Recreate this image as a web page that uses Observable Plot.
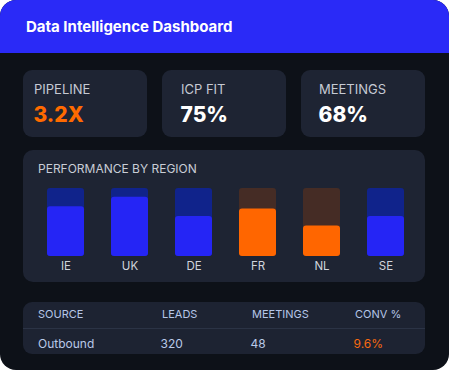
<!DOCTYPE html>
<html>
<head>
<meta charset="utf-8">
<script src="https://cdn.jsdelivr.net/npm/d3@7"></script>
<script src="https://cdn.jsdelivr.net/npm/@observablehq/plot@0.6"></script>
<style>
  html, body { margin: 0; padding: 0; background: #ffffff; }
  body { width: 449px; height: 371px; position: relative; overflow: hidden; font-family: Inter, "Noto Sans", sans-serif; }
  .card { position: absolute; left: 0; top: 0; width: 449px; height: 370px; background: #0d1118; border-radius: 16px; overflow: hidden; }
  .header { position: absolute; left: 0; top: 0; width: 449px; height: 53px; background: #2a2af7; }
  .title { position: absolute; left: 26px; top: 19px; font-size: 15px; line-height: 15px; font-weight: 700; color: #ffffff; white-space: nowrap; }
  .kpi { position: absolute; top: 70px; width: 124px; height: 67px; background: #1e2433; border-radius: 9px; }
  .kpi .lab { position: absolute; top: 12.5px; font-size: 13px; line-height: 13px; color: #c6cad3; white-space: nowrap; }
  .kpi .val { position: absolute; top: 34.3px; font-size: 21px; line-height: 21px; font-weight: 800; color: #ffffff; white-space: nowrap; }
  .panel { position: absolute; left: 23px; top: 150px; width: 402px; height: 132px; background: #1e2433; border-radius: 10px; }
  .ptitle { position: absolute; left: 15px; top: 12.7px; font-size: 12px; line-height: 12px; color: #c9cdd6; white-space: nowrap; }
  #chart { position: absolute; left: 0; top: 30px; }
  .table { position: absolute; left: 23px; top: 302px; width: 402px; height: 52px; background: #1d2332; border-radius: 9px; }
  .sep { position: absolute; left: 0; top: 26px; width: 402px; height: 1px; background: #2b3345; }
  .th { position: absolute; top: 7.3px; font-size: 11px; line-height: 11px; color: #b5c6e8; white-space: nowrap; }
  .td { position: absolute; top: 36px; font-size: 12px; line-height: 12px; color: #b9c9e8; white-space: nowrap; }
</style>
</head>
<body>
<div class="card" id="card">
  <div class="header"><div class="title">Data Intelligence Dashboard</div></div>
  <div class="panel" id="panel"><div class="ptitle">PERFORMANCE BY REGION</div><div id="chart"></div></div>
  <div class="table" id="table"><div class="sep"></div></div>
</div>
<script>
// ---- data ----
const kpiLabels = ["PIPELINE", "ICP FIT", "MEETINGS"];
const kpiValues = ["3.2X", "75%", "68%"];
const kpiAlert = [true, false, false];

const regions = ["IE", "UK", "DE", "FR", "NL", "SE"];
const regionScores = [73, 87, 59, 70, 45, 59];
const regionStatus = ["ok", "ok", "ok", "risk", "risk", "ok"];
const scoreMax = 100;

const tableHeaders = ["SOURCE", "LEADS", "MEETINGS", "CONV %"];
const tableRow = ["Outbound", "320", "48", "9.6%"];
const tableAlertCol = 3;

// ---- styles ----
const BLUE = "#2525f5", BLUE_TRACK = "#10238b";
const ORANGE = "#ff6600", ORANGE_TRACK = "#452c25";
const fillFor = {ok: BLUE, risk: ORANGE};
const trackFor = {ok: BLUE_TRACK, risk: ORANGE_TRACK};

// ---- KPI cards ----
const card = document.getElementById("card");
const kpiLeft = [23, 162, 301];
const kpiPad = [11, 19, 18];
kpiLabels.forEach((lab, i) => {
  const d = document.createElement("div");
  d.className = "kpi";
  d.style.left = kpiLeft[i] + "px";
  d.innerHTML = `<div class="lab" style="left:${kpiPad[i]}px">${lab}</div>` +
    `<div class="val" style="left:${kpiPad[i] - 0.5}px;color:${kpiAlert[i] ? "#ff6a00" : "#ffffff"}">${kpiValues[i]}</div>`;
  card.appendChild(d);
});

// ---- bar chart ----
const data = regions.map((r, i) => ({region: r, score: regionScores[i], status: regionStatus[i], max: scoreMax}));
const chart = Plot.plot({
  width: 402,
  height: 100,
  marginTop: 8,
  marginBottom: 24,
  marginLeft: 24,
  marginRight: 21,
  style: {background: "transparent", fontFamily: "Inter, sans-serif", overflow: "visible"},
  x: {domain: regions, paddingInner: 0.422, paddingOuter: 0, axis: null},
  y: {domain: [0, scoreMax], axis: null},
  color: {type: "identity"},
  marks: [
    Plot.barY(data, {x: "region", y: "max", fill: d => trackFor[d.status], rx: 3}),
    Plot.barY(data, {x: "region", y: "score", fill: d => fillFor[d.status], rx: 3}),
    Plot.text(data, {x: "region", y: 0, text: "region", dy: 9.8, lineAnchor: "middle", textAnchor: "middle", fontSize: 11.5, fill: "#d0d4dc"})
  ]
});
document.getElementById("chart").appendChild(chart);

// ---- table ----
const table = document.getElementById("table");
const colX = [15, 139, 229, 332];
tableHeaders.forEach((h, i) => {
  const d = document.createElement("div");
  d.className = "th";
  d.style.left = colX[i] + "px";
  d.textContent = h;
  table.appendChild(d);
});
tableRow.forEach((v, i) => {
  const d = document.createElement("div");
  d.className = "td";
  d.style.left = (i === 0 ? colX[i] : colX[i] - 1.5) + "px";
  if (i === tableAlertCol) d.style.color = "#f86a10";
  d.textContent = v;
  table.appendChild(d);
});
</script>
</body>
</html>
